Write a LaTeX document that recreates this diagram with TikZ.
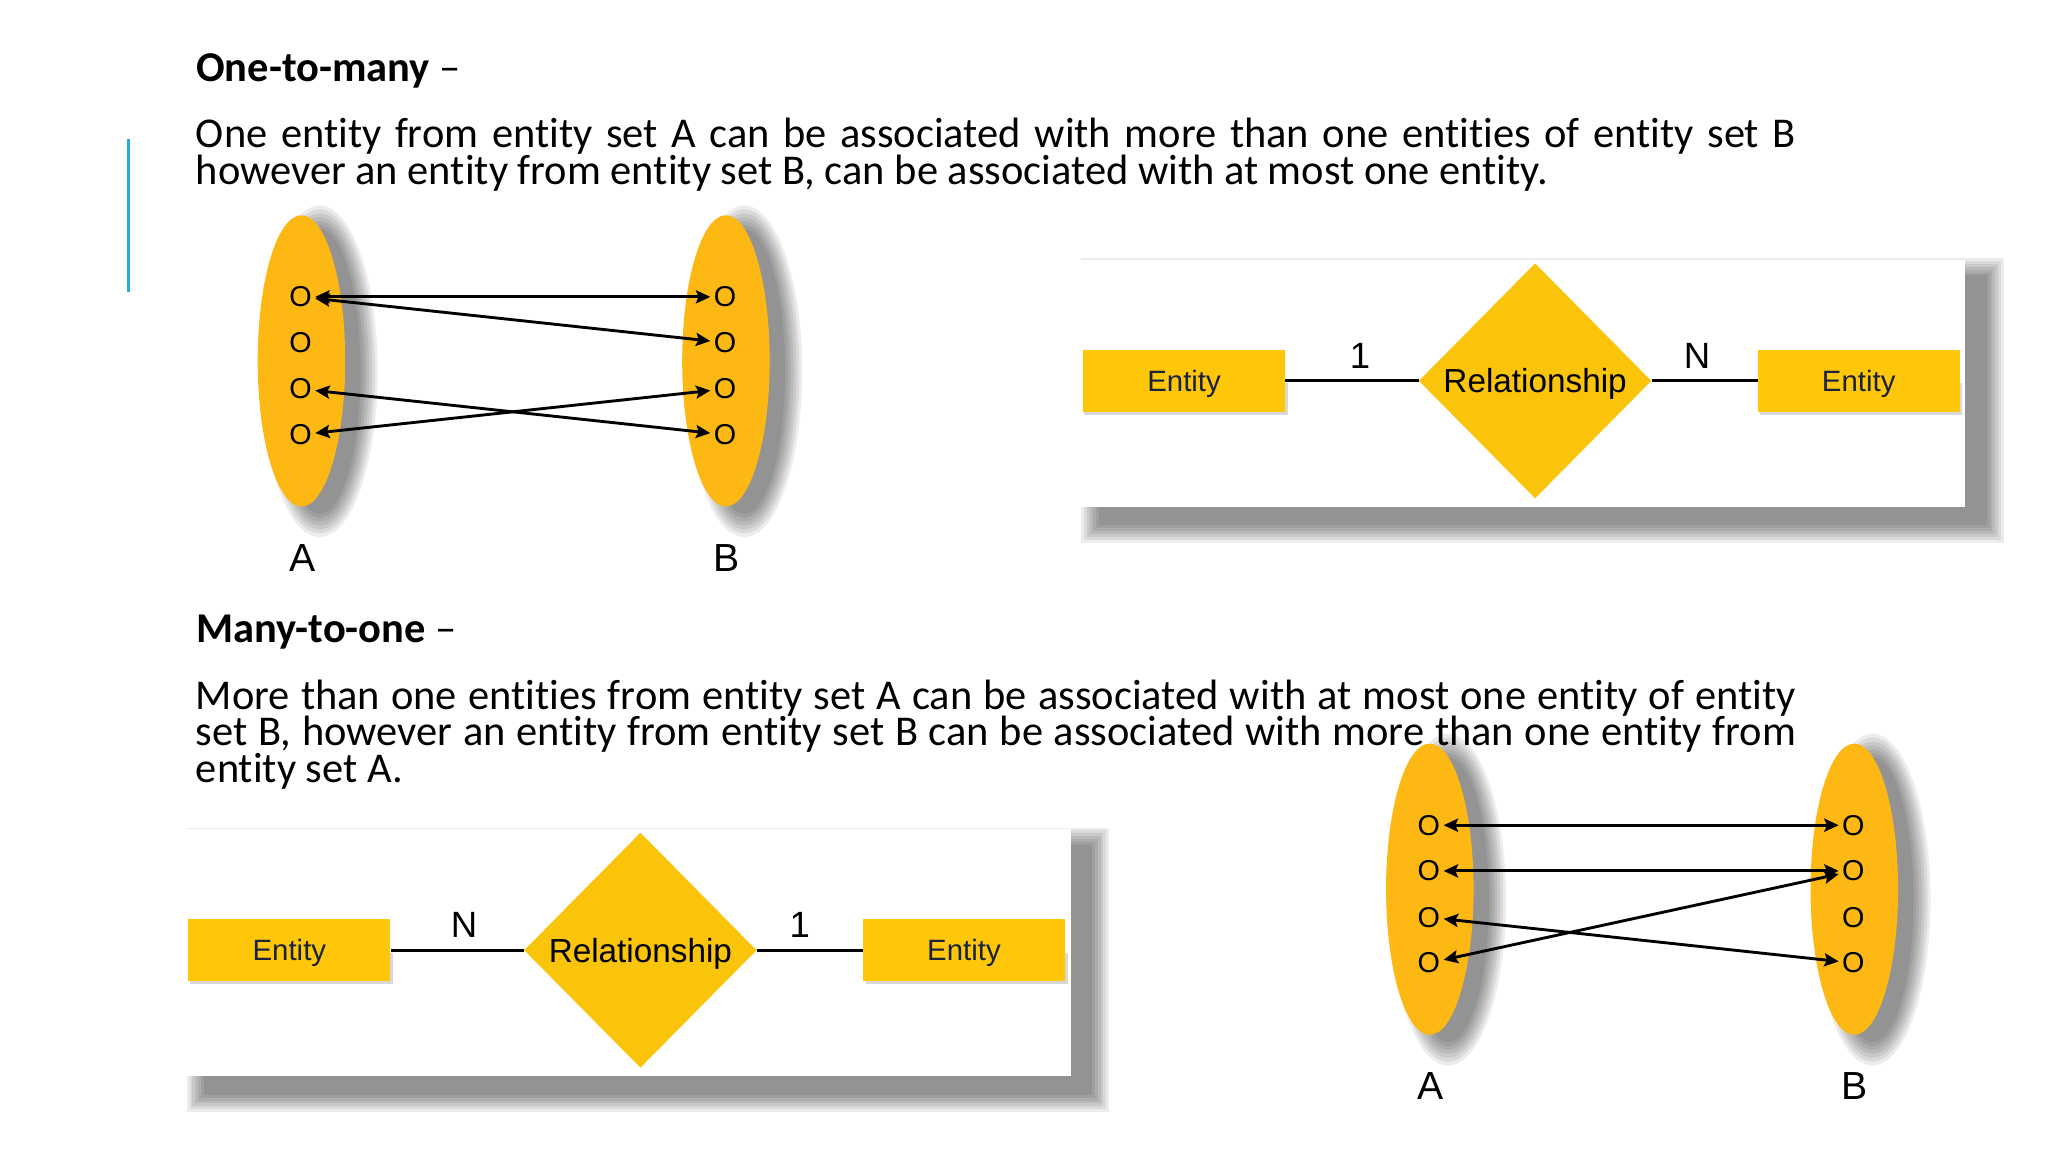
\documentclass[tikz,border=0pt]{standalone}
\usepackage{fontspec}
\setmainfont[Ligatures=NoCommon]{Carlito}
\newfontfamily\arialf{Liberation Sans}
\usetikzlibrary{shapes.geometric,arrows.meta}

\definecolor{ellcol}{RGB}{253,184,19}
\definecolor{entcol}{RGB}{255,198,10}
\definecolor{relcol}{RGB}{250,196,10}
\definecolor{navy}{RGB}{25,35,60}
\definecolor{accent}{RGB}{41,171,226}

\tikzset{
  setell/.style={ellipse, fill=ellcol, minimum width=67pt, minimum height=223pt, inner sep=0pt},
  elem/.style={font=\arialf\fontsize{22}{22}\selectfont, inner sep=2.5pt},
  setlabel/.style={font=\arialf\fontsize{30}{30}\selectfont, inner sep=0pt},
  link/.style={{Stealth[length=11pt,width=10pt,inset=2pt]}-{Stealth[length=11pt,width=10pt,inset=2pt]}, line width=2.2pt},
  entbox/.style={rectangle, fill=entcol, minimum width=154.5pt, minimum height=47.5pt, inner sep=0pt, text=navy, text depth=0pt, font=\arialf\fontsize{22.5}{22.5}\selectfont},
  relbox/.style={diamond, fill=relcol, minimum width=178pt, minimum height=180pt, inner sep=0pt, aspect=1, text depth=0pt, font=\arialf\fontsize{25.5}{25.5}\selectfont},
  card/.style={font=\arialf\fontsize{28}{28}\selectfont, inner sep=0pt},
  erline/.style={line width=2.2pt},
  headtext/.style={anchor=base west, inner sep=0pt, font=\fontsize{32.5}{28}\selectfont},
  bodytext/.style={anchor=text, inner sep=0pt, align=left, font=\fontsize{32.5}{28}\selectfont},
  shadowlayer/.style={fill=black, opacity=0.075}
}

\begin{document}
\begin{tikzpicture}[x=1pt,y=-1pt]
\useasboundingbox (0,0) rectangle (1568,882);
\fill[white] (0,0) rectangle (1568,882);

% accent bar
\draw[accent, line width=2.3pt] (98.3,106.5) -- (98.3,223.3);

% texts (anchor=text is the baseline of the last line)
\node[headtext] (h1) at (150,62.5) {\textbf{One-to-many} –};
\node[bodytext] (d1) at (150,141) {\makebox[1225pt][s]{One entity from entity set A can be associated with more than one entities of entity set B}\\
however an entity from entity set B, can be associated with at most one entity.};

\node[headtext] (h2) at (150,492) {\textbf{Many-to-one} –};
\node[bodytext] (d2) at (150,599) {\makebox[1225pt][s]{More than one entities from entity set A can be associated with at most one entity of entity}\\
\makebox[1225pt][s]{set B, however an entity from entity set B can be associated with more than one entity from}\\
entity set A.};

% ---------- Top-left set diagram (one-to-many) ----------
\begin{scope}[shift={(230.8,276.3)}]
  \foreach \k in {1,...,7} {
    \fill[shadowlayer] (14,8) ellipse ({29+\k*2.2} and {106+\k*3});
    \fill[shadowlayer] (339,8) ellipse ({29+\k*2.2} and {106+\k*3});
  }
  \node[setell] (sA1) at (0,0) {};
  \node[setell] (sB1) at (325,0) {};
  \node[elem] (pa1) at (-0.7,-49) {O};
  \node[elem] (pa2) at (-0.7,-14) {O};
  \node[elem] (pa3) at (-0.7,21.5) {O};
  \node[elem] (pa4) at (-0.7,56.5) {O};
  \node[elem] (pb1) at (324.3,-49) {O};
  \node[elem] (pb2) at (324.3,-14) {O};
  \node[elem] (pb3) at (324.3,21.5) {O};
  \node[elem] (pb4) at (324.3,56.5) {O};
  \draw[link] (pa1) -- (pb1);
  \draw[link] (pa1) -- (pb2);
  \draw[link] (pa3) -- (pb4);
  \draw[link] (pa4) -- (pb3);
  \node[setlabel] (lA1) at (0.5,151) {A};
  \node[setlabel] (lB1) at (325.5,151) {B};
\end{scope}

% ---------- Bottom-right set diagram (many-to-one) ----------
\begin{scope}[shift={(1094.7,680.8)}]
  \foreach \k in {1,...,7} {
    \fill[shadowlayer] (14,8) ellipse ({29+\k*2.2} and {106+\k*3});
    \fill[shadowlayer] (339,8) ellipse ({29+\k*2.2} and {106+\k*3});
  }
  \node[setell] (sA2) at (0,0) {};
  \node[setell] (sB2) at (325,0) {};
  \node[elem] (qa1) at (-0.7,-49) {O};
  \node[elem] (qa2) at (-0.7,-14) {O};
  \node[elem] (qa3) at (-0.7,21.5) {O};
  \node[elem] (qa4) at (-0.7,56.5) {O};
  \node[elem] (qb1) at (324.3,-49) {O};
  \node[elem] (qb2) at (324.3,-14) {O};
  \node[elem] (qb3) at (324.3,21.5) {O};
  \node[elem] (qb4) at (324.3,56.5) {O};
  \draw[link] (qa1) -- (qb1);
  \draw[link] (qa2) -- (qb2);
  \draw[link] (qa4) -- (qb2);
  \draw[link] (qa3) -- (qb4);
  \node[setlabel] (lA2) at (0.5,151) {A};
  \node[setlabel] (lB2) at (325.5,151) {B};
\end{scope}

% ---------- Top-right ER panel (1 : N) ----------
\begin{scope}[shift={(829.3,291.6)}]
  \foreach \k in {1,...,7}
    \fill[shadowlayer] ({-2+16-\k*2.2},{-92.5+14-\k*2.2}) rectangle ({675.5+14+\k*2.2},{96.5+12+\k*2.2});
  \fill[white] (-2,-92.5) rectangle (675.5,96.5);
  \fill[black, opacity=0.15] (1,2) rectangle (156.5,26);
  \fill[black, opacity=0.15] (518.5,2) rectangle (673,26);
  \node[entbox] (e1L) at (77.25,0) {Entity};
  \node[relbox] (r1) at (346,0) {Relationship};
  \node[entbox] (e1R) at (593.75,0) {Entity};
  \draw[erline] (e1L.east) -- (r1.west);
  \draw[erline] (r1.east) -- (e1R.west);
  \node[card] (c1a) at (212,-19) {1};
  \node[card] (c1b) at (470,-19) {N};
\end{scope}

% ---------- Bottom-left ER panel (N : 1) ----------
\begin{scope}[shift={(144.3,727.5)}]
  \foreach \k in {1,...,7}
    \fill[shadowlayer] ({-2+16-\k*2.2},{-92.5+14-\k*2.2}) rectangle ({675.5+14+\k*2.2},{96.5+12+\k*2.2});
  \fill[white] (-2,-92.5) rectangle (675.5,96.5);
  \fill[black, opacity=0.15] (1,2) rectangle (156.5,26);
  \fill[black, opacity=0.15] (518.5,2) rectangle (673,26);
  \node[entbox] (e2L) at (77.25,0) {Entity};
  \node[relbox] (r2) at (346,0) {Relationship};
  \node[entbox] (e2R) at (593.75,0) {Entity};
  \draw[erline] (e2L.east) -- (r2.west);
  \draw[erline] (r2.east) -- (e2R.west);
  \node[card] (c2a) at (211,-19) {N};
  \node[card] (c2b) at (468,-19) {1};
\end{scope}
\end{tikzpicture}
\end{document}
